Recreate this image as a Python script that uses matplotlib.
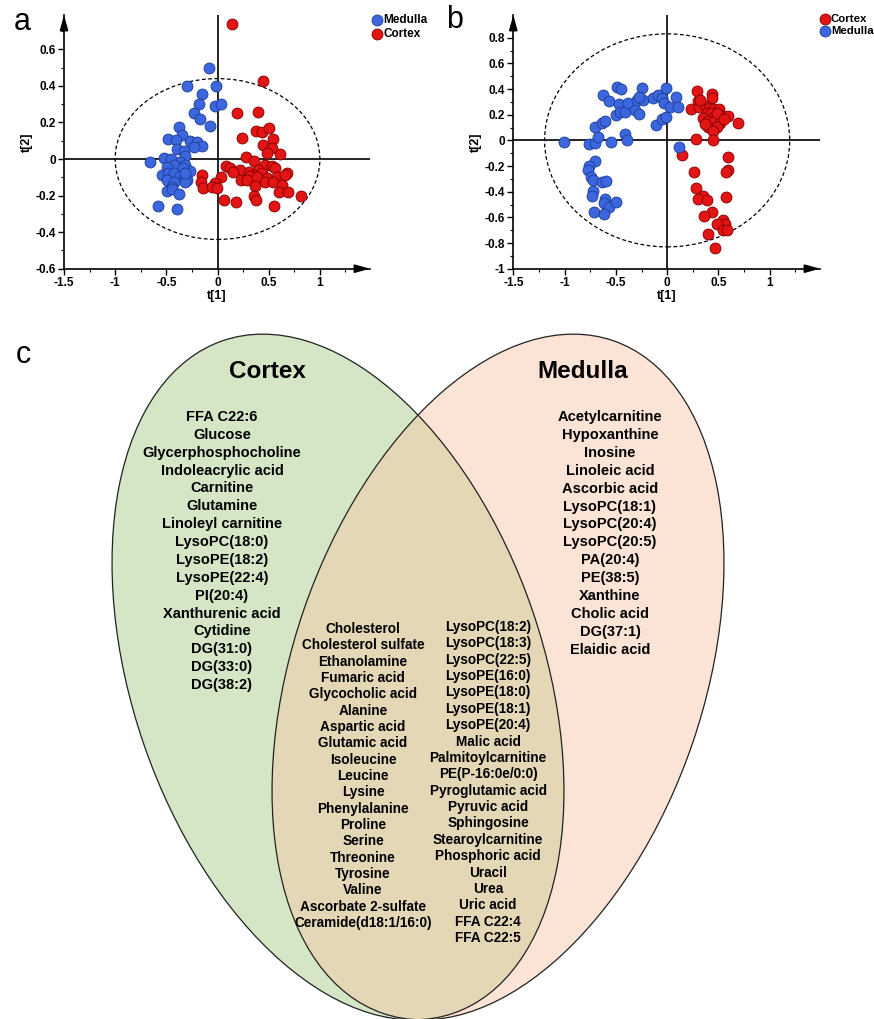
import matplotlib
matplotlib.use("Agg")
import matplotlib.pyplot as plt
from matplotlib.patches import Ellipse
from matplotlib.ticker import MultipleLocator, FixedLocator, FuncFormatter
import numpy as np

plt.rcParams['font.family'] = ['Liberation Sans', 'DejaVu Sans']
plt.rcParams['axes.unicode_minus'] = False

# ---------------- data: panel a (PLS-DA scores) ----------------
a_medulla_t1 = [-0.081, -0.30, -0.016, -0.153, -0.179, -0.029, 0.033, -0.228, -0.169, -0.078,
                -0.381, -0.348, -0.488, -0.407, -0.267, -0.202, -0.153, -0.234, -0.397, -0.332,
                -0.664, -0.527, -0.453, -0.316, -0.365, -0.430, -0.322, -0.495, -0.273, -0.544,
                -0.479, -0.423, -0.371, -0.316, -0.495, -0.430, -0.299, -0.446, -0.316, -0.495,
                -0.446, -0.374, -0.583, -0.397, -0.339, -0.316]
a_medulla_t2 = [0.500, 0.401, 0.399, 0.354, 0.301, 0.290, 0.299, 0.253, 0.219, 0.182,
                0.177, 0.131, 0.108, 0.104, 0.100, 0.095, 0.073, 0.067, 0.053, 0.046,
                -0.016, 0.007, 0.002, 0.016, -0.015, -0.033, -0.033, -0.042, -0.064, -0.088,
                -0.078, -0.078, -0.091, -0.097, -0.115, -0.124, -0.115, -0.151, -0.124, -0.173,
                -0.166, -0.191, -0.257, -0.274, -0.051, -0.075]
a_cortex_t1 = [0.140, 0.449, 0.189, 0.391, 0.378, 0.433, 0.501, 0.244, 0.540, 0.449,
               0.530, 0.482, 0.612, 0.277, 0.352, 0.465, 0.534, 0.085, 0.124, 0.221,
               0.156, 0.400, 0.557, 0.303, 0.352, 0.433, -0.153, 0.036, 0.319, 0.482,
               0.580, 0.677, 0.661, 0.231, 0.287, 0.384, 0.465, 0.540, -0.160, -0.023,
               -0.137, -0.055, -0.007, 0.368, 0.628, 0.596, 0.684, 0.814, 0.352, 0.068,
               0.179, 0.374, 0.553]
a_cortex_t2 = [0.737, 0.429, 0.253, 0.259, 0.155, 0.150, 0.168, 0.117, 0.108, 0.077,
               0.058, 0.035, 0.026, 0.013, -0.009, -0.033, -0.036, -0.036, -0.051, -0.060,
               -0.069, -0.060, -0.051, -0.073, -0.088, -0.075, -0.088, -0.097, -0.093, -0.106,
               -0.097, -0.075, -0.088, -0.115, -0.115, -0.097, -0.124, -0.124, -0.124, -0.129,
               -0.160, -0.155, -0.157, -0.146, -0.142, -0.182, -0.179, -0.201, -0.202, -0.224,
               -0.237, -0.224, -0.255]

# ---------------- data: panel b ----------------
b_medulla_t1 = [-1.008, -0.764, -0.706, -0.673, -0.550, -0.407, -0.387, -0.706, -0.631, -0.608,
                -0.624, -0.569, -0.485, -0.452, -0.472, -0.494, -0.462, -0.407, -0.381, -0.315,
                -0.293, -0.276, -0.244, -0.234, -0.273, -0.137, -0.088, -0.055, -0.033, 0.026,
                -0.007, 0.085, 0.101, -0.111, -0.055, -0.013, 0.114, -0.706, -0.764, -0.767,
                -0.741, -0.719, -0.634, -0.598, -0.722, -0.728, -0.602, -0.618, -0.569, -0.494,
                -0.715, -0.618]
b_medulla_t2 = [-0.010, -0.031, -0.023, 0.029, -0.010, 0.049, 0.003, 0.106, 0.138, 0.153,
                0.353, 0.309, 0.413, 0.397, 0.283, 0.197, 0.223, 0.223, 0.288, 0.236,
                0.314, 0.203, 0.405, 0.314, 0.340, 0.327, 0.353, 0.327, 0.294, 0.262,
                0.410, 0.340, 0.257, 0.119, 0.164, 0.179, -0.049, -0.158, -0.197, -0.231,
                -0.283, -0.309, -0.322, -0.317, -0.395, -0.434, -0.457, -0.491, -0.517, -0.483,
                -0.556, -0.574]
b_cortex_t1 = [0.293, 0.439, 0.433, 0.302, 0.228, 0.309, 0.374, 0.410, 0.449, 0.507,
               0.384, 0.423, 0.459, 0.540, 0.595, 0.351, 0.400, 0.442, 0.514, 0.686,
               0.400, 0.481, 0.442, 0.280, 0.449, 0.140, 0.595, 0.263, 0.595, 0.572,
               0.286, 0.351, 0.302, 0.384, 0.572, 0.439, 0.358, 0.540, 0.563, 0.488,
               0.540, 0.585, 0.394, 0.465, 0.319, 0.481, 0.367, 0.556]
b_cortex_t2 = [0.387, 0.361, 0.327, 0.309, 0.242, 0.257, 0.268, 0.255, 0.244, 0.244,
               0.210, 0.210, 0.179, 0.190, 0.190, 0.171, 0.153, 0.145, 0.138, 0.138,
               0.101, 0.101, 0.075, 0.008, 0.003, -0.114, -0.132, -0.244, -0.231, -0.244,
               -0.374, -0.431, -0.457, -0.465, -0.444, -0.561, -0.590, -0.621, -0.652, -0.652,
               -0.699, -0.699, -0.730, -0.842, 0.314, 0.210, 0.127, 0.164]

# ---------------- data: panel c (Venn lists) ----------------
cortex_only = ["FFA C22:6", "Glucose", "Glycerphosphocholine", "Indoleacrylic acid", "Carnitine",
               "Glutamine", "Linoleyl carnitine", "LysoPC(18:0)", "LysoPE(18:2)", "LysoPE(22:4)",
               "PI(20:4)", "Xanthurenic acid", "Cytidine", "DG(31:0)", "DG(33:0)", "DG(38:2)"]
medulla_only = ["Acetylcarnitine", "Hypoxanthine", "Inosine", "Linoleic acid", "Ascorbic acid",
                "LysoPC(18:1)", "LysoPC(20:4)", "LysoPC(20:5)", "PA(20:4)", "PE(38:5)",
                "Xanthine", "Cholic acid", "DG(37:1)", "Elaidic acid"]
shared_col1 = ["Cholesterol", "Cholesterol sulfate", "Ethanolamine", "Fumaric acid",
               "Glycocholic acid", "Alanine", "Aspartic acid", "Glutamic acid", "Isoleucine",
               "Leucine", "Lysine", "Phenylalanine", "Proline", "Serine", "Threonine",
               "Tyrosine", "Valine", "Ascorbate 2-sulfate", "Ceramide(d18:1/16:0)"]
shared_col2 = ["LysoPC(18:2)", "LysoPC(18:3)", "LysoPC(22:5)", "LysoPE(16:0)", "LysoPE(18:0)",
               "LysoPE(18:1)", "LysoPE(20:4)", "Malic acid", "Palmitoylcarnitine",
               "PE(P-16:0e/0:0)", "Pyroglutamic acid", "Pyruvic acid", "Sphingosine",
               "Stearoylcarnitine", "Phosphoric acid", "Uracil", "Urea", "Uric acid",
               "FFA C22:4", "FFA C22:5"]

BLUE_F, BLUE_E = '#3b66dd', '#1d3c96'
RED_F, RED_E = '#e31414', '#800000'

W, H = 874, 1019
fig = plt.figure(figsize=(W / 100, H / 100), dpi=100)

# ---------------- panel c: Venn ----------------
axc = fig.add_axes([0, 0, 1, 1])
axc.set_xlim(0, W)
axc.set_ylim(H, 0)
axc.axis('off')

green, pink, over = '#d5e6c6', '#fbe3d6', '#e3d7b6'
ell_w, ell_h, ang = 411, 711, 18.9
cL = (338, 677)
cR = (498, 677)
eL = Ellipse(cL, ell_w, ell_h, angle=-ang, fc=green, ec='none', zorder=1)
eR = Ellipse(cR, ell_w, ell_h, angle=ang, fc=pink, ec='none', zorder=1)
axc.add_patch(eL)
axc.add_patch(eR)
eO = Ellipse(cR, ell_w, ell_h, angle=ang, fc=over, ec='none', zorder=2)
axc.add_patch(eO)
eO.set_clip_path(eL)
for c, a in ((cL, -ang), (cR, ang)):
    axc.add_patch(Ellipse(c, ell_w, ell_h, angle=a, fc='none', ec='#222222', lw=0.9, zorder=3))

axc.text(267, 372, "Cortex", ha='center', va='center', fontsize=17.5, fontweight='bold', zorder=4)
axc.text(583, 372, "Medulla", ha='center', va='center', fontsize=17.5, fontweight='bold', zorder=4)

def column(items, x, y0, dy, fs):
    for i, s in enumerate(items):
        axc.text(x, y0 + i * dy, s, ha='center', va='center', fontsize=fs,
                 fontweight='bold', zorder=4)

column(cortex_only, 222, 417, 17.87, 10.5)
column(medulla_only, 610, 417, 17.9, 10.5)
column(shared_col1, 363, 629, 16.33, 9.8)
column(shared_col2, 488, 627, 16.37, 9.8)

# ---------------- scatter panels ----------------
def score_panel(rect, ylim, hot, series, yticks, ymin_step, legend_xy, legend_fs):
    ax = fig.add_axes(rect)
    ax.set_xlim(-1.5, 1.49)
    ax.set_ylim(*ylim)
    for sp in ('top', 'right'):
        ax.spines[sp].set_visible(False)
    for sp in ('left', 'bottom'):
        ax.spines[sp].set_linewidth(1.2)
    ax.axhline(0, color='black', lw=1.2, zorder=1)
    ax.axvline(0, color='black', lw=1.2, zorder=1)
    ax.add_patch(Ellipse((0, 0), 2 * hot[0], 2 * hot[1], fill=False, ec='black',
                         lw=0.9, ls=(0, (3, 2)), zorder=1))
    handles = []
    for (x, y, fc, ec, lab) in series:
        h = ax.scatter(x, y, s=62, c=fc, edgecolors=ec, linewidths=0.6, zorder=3, label=lab)
        handles.append(h)
    ax.xaxis.set_major_locator(FixedLocator([-1.5, -1, -0.5, 0, 0.5, 1]))
    ax.xaxis.set_minor_locator(MultipleLocator(0.25))
    ax.yaxis.set_major_locator(FixedLocator(yticks))
    ax.yaxis.set_minor_locator(MultipleLocator(ymin_step))
    fmt = FuncFormatter(lambda v, p: ('%g' % round(v, 2)))
    ax.xaxis.set_major_formatter(fmt)
    ax.yaxis.set_major_formatter(fmt)
    ax.tick_params(which='major', direction='out', length=4, width=1, labelsize=8.5, pad=2)
    ax.tick_params(which='minor', direction='out', length=2.5, width=0.8)
    for lbl in ax.get_xticklabels() + ax.get_yticklabels():
        lbl.set_fontweight('bold')
    ax.set_xlabel('t[1]', fontsize=9, fontweight='bold', labelpad=1)
    ax.set_ylabel('t[2]', fontsize=9, fontweight='bold', labelpad=2)
    ax.annotate('', xy=(0, 1.0), xytext=(0, 0.95), xycoords='axes fraction',
                arrowprops=dict(arrowstyle='-|>,head_length=0.9,head_width=0.25',
                                color='black', lw=1.2, shrinkA=0, shrinkB=0))
    ax.annotate('', xy=(1.0, 0), xytext=(0.95, 0), xycoords='axes fraction',
                arrowprops=dict(arrowstyle='-|>,head_length=0.9,head_width=0.25',
                                color='black', lw=1.2, shrinkA=0, shrinkB=0))
    ax.legend(handles=handles, loc='upper left', bbox_to_anchor=legend_xy,
              bbox_transform=fig.transFigure, frameon=False, borderpad=0,
              borderaxespad=0, handletextpad=0.05, labelspacing=0.2, handlelength=1.0,
              prop={'weight': 'bold', 'size': legend_fs}, markerscale=1.0)
    ax.patch.set_alpha(0)
    return ax

axa = score_panel([64 / W, 1 - 268.7 / H, (370 - 64) / W, (268.7 - 15) / H],
                  (-0.6, 0.788), (1.0, 0.44),
                  [(a_medulla_t1, a_medulla_t2, BLUE_F, BLUE_E, 'Medulla'),
                   (a_cortex_t1, a_cortex_t2, RED_F, RED_E, 'Cortex')],
                  [-0.6, -0.4, -0.2, 0, 0.2, 0.4, 0.6], 0.1,
                  (371 / W, 1 - 14 / H), 8.5)
axb = score_panel([513.3 / W, 1 - 268.7 / H, (820 - 513.3) / W, (268.7 - 15) / H],
                  (-1.0, 0.977), (1.195, 0.83),
                  [(b_cortex_t1, b_cortex_t2, RED_F, RED_E, 'Cortex'),
                   (b_medulla_t1, b_medulla_t2, BLUE_F, BLUE_E, 'Medulla')],
                  [-1, -0.8, -0.6, -0.4, -0.2, 0, 0.2, 0.4, 0.6, 0.8], 0.1,
                  (819 / W, 1 - 14 / H), 8.2)

fig.text(22 / W, 1 - 22 / H, 'a', fontsize=22, ha='center', va='center')
fig.text(455 / W, 1 - 20 / H, 'b', fontsize=22, ha='center', va='center')
fig.text(23 / W, 1 - 355 / H, 'c', fontsize=22, ha='center', va='center')

fig.savefig('out.png', dpi=100)
